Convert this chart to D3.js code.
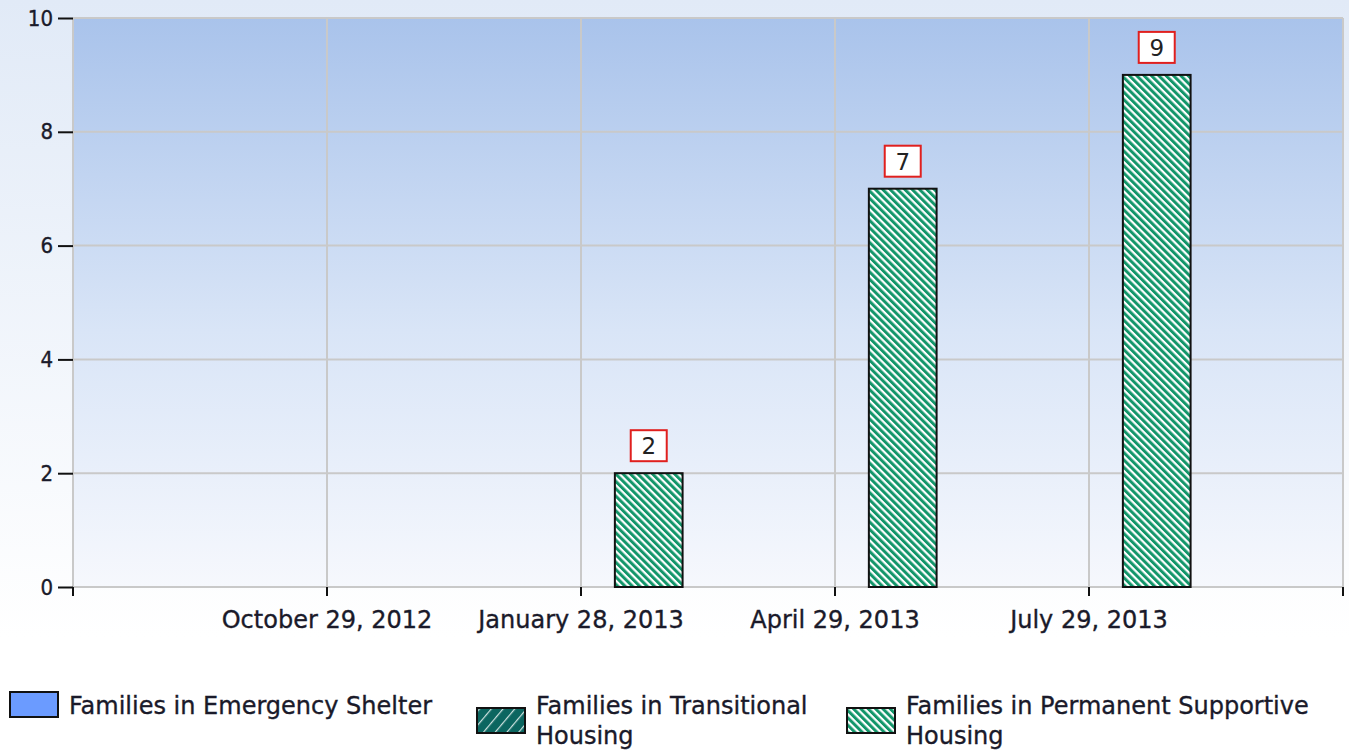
<!DOCTYPE html>
<html>
<head>
<meta charset="utf-8">
<script src="https://cdn.jsdelivr.net/npm/d3@7"></script>
<style>
  body { margin: 0; background: #fff; }
  svg { display: block; }
</style>
</head>
<body>
<svg width="1349" height="750"></svg>
<script>
// Chart data
const categories = ["October 29, 2012", "January 28, 2013", "April 29, 2013", "July 29, 2013"];
const seriesNames = ["Families in Emergency Shelter", "Families in Transitional Housing", "Families in Permanent Supportive Housing"];
const emergencyShelter = [0, 0, 0, 0];
const transitionalHousing = [0, 0, 0, 0];
const permanentHousing = [0, 2, 7, 9];
const yTicks = [0, 2, 4, 6, 8, 10];
// legend text as it wraps in the picture
const legendLines = [
    ["Families in Emergency Shelter"],
    ["Families in Transitional", "Housing"],
    ["Families in Permanent Supportive", "Housing"]
];

const width = 1349;
const height = 750;
const plot = {left: 73, right: 1343, top: 18, bottom: 587};

const svg = d3.select("svg");
const defs = svg.append("defs");

// background gradients
const pageGrad = defs.append("linearGradient").attr("id", "pageGrad")
    .attr("x1", 0).attr("y1", 0).attr("x2", 0).attr("y2", 1);
pageGrad.append("stop").attr("offset", "0%").attr("stop-color", "#e1eaf7");
pageGrad.append("stop").attr("offset", "85%").attr("stop-color", "#ffffff");

const plotGrad = defs.append("linearGradient").attr("id", "plotGrad")
    .attr("x1", 0).attr("y1", 0).attr("x2", 0).attr("y2", 1);
plotGrad.append("stop").attr("offset", "0%").attr("stop-color", "#a9c3eb");
plotGrad.append("stop").attr("offset", "55%").attr("stop-color", "#d9e5f7");
plotGrad.append("stop").attr("offset", "100%").attr("stop-color", "#f6f8fd");

// hatch patterns
const greenHatch = defs.append("pattern").attr("id", "greenHatch")
    .attr("patternUnits", "userSpaceOnUse")
    .attr("width", 5.2).attr("height", 10)
    .attr("patternTransform", "rotate(-45)");
greenHatch.append("rect").attr("width", 5.2).attr("height", 10).attr("fill", "#ffffff");
greenHatch.append("rect").attr("width", 3).attr("height", 10).attr("fill", "#13966a");

const tealHatch = defs.append("pattern").attr("id", "tealHatch")
    .attr("patternUnits", "userSpaceOnUse")
    .attr("width", 9).attr("height", 10)
    .attr("patternTransform", "rotate(40)");
tealHatch.append("rect").attr("width", 9).attr("height", 10).attr("fill", "#0b6660");
tealHatch.append("rect").attr("width", 1.2).attr("height", 10).attr("fill", "#cfe3e0");

const fills = ["#6b9bff", "url(#tealHatch)", "url(#greenHatch)"];

svg.append("rect").attr("width", width).attr("height", height).attr("fill", "url(#pageGrad)");
svg.append("rect")
    .attr("x", plot.left).attr("y", plot.top)
    .attr("width", plot.right - plot.left).attr("height", plot.bottom - plot.top)
    .attr("fill", "url(#plotGrad)");

// scales
const x = d3.scalePoint().domain(categories).range([plot.left, plot.right]).padding(1);
const step = x.step();
const xSeries = d3.scaleBand().domain(d3.range(seriesNames.length))
    .range([-step * 0.4, step * 0.4]);
const y = d3.scaleLinear().domain([0, 10]).range([plot.bottom, plot.top]);

// grid
const grid = svg.append("g").attr("stroke", "#c9c9c9").attr("stroke-width", 2);
grid.selectAll("line.h").data(yTicks).join("line")
    .attr("x1", plot.left).attr("x2", plot.right)
    .attr("y1", d => y(d)).attr("y2", d => y(d));
grid.selectAll("line.v").data(categories).join("line")
    .attr("x1", d => x(d)).attr("x2", d => x(d))
    .attr("y1", plot.top).attr("y2", plot.bottom);
grid.append("line").attr("x1", plot.left).attr("x2", plot.left).attr("y1", plot.top).attr("y2", plot.bottom);
grid.append("line").attr("x1", plot.right).attr("x2", plot.right).attr("y1", plot.top).attr("y2", plot.bottom);

// bars
const seriesValues = [emergencyShelter, transitionalHousing, permanentHousing];
const barData = [];
seriesValues.forEach((vals, s) => {
    vals.forEach((v, i) => barData.push({cat: categories[i], s: s, v: v}));
});
const bars = barData.filter(d => d.v > 0);

svg.append("g").selectAll("rect").data(bars).join("rect")
    .attr("x", d => x(d.cat) + xSeries(d.s))
    .attr("y", d => y(d.v))
    .attr("width", xSeries.bandwidth())
    .attr("height", d => y(0) - y(d.v))
    .attr("fill", d => fills[d.s])
    .attr("stroke", "#111")
    .attr("stroke-width", 2);

const textStyle = sel => sel
    .attr("fill", "#1a1a2a")
    .attr("stroke", "#1a1a2a")
    .attr("stroke-width", 0.35);

// value labels
const labels = svg.append("g").selectAll("g").data(bars).join("g")
    .attr("transform", d => `translate(${x(d.cat) + xSeries(d.s) + xSeries.bandwidth() / 2},${y(d.v) - 12})`);
labels.append("rect")
    .attr("x", -18).attr("y", -31).attr("width", 36).attr("height", 31)
    .attr("fill", "#ffffff").attr("stroke", "#e0201e").attr("stroke-width", 2);
labels.append("text")
    .attr("y", -7)
    .attr("text-anchor", "middle")
    .attr("font-family", "'DejaVu Sans', sans-serif")
    .attr("font-size", 23)
    .attr("fill", "#222")
    .text(d => d.v);

// y axis
const yAxis = svg.append("g").attr("transform", `translate(${plot.left},0)`)
    .call(d3.axisLeft(y).tickValues(yTicks).tickSize(15).tickPadding(5));
yAxis.select(".domain").remove();
yAxis.selectAll(".tick line").attr("stroke", "#111").attr("stroke-width", 2);
yAxis.selectAll(".tick text")
    .attr("font-family", "'DejaVu Sans Condensed', 'DejaVu Sans', sans-serif")
    .attr("font-size", 22)
    .call(textStyle);

// x axis ticks (plot edges + categories)
const xTickPos = [plot.left].concat(categories.map(c => x(c)), [plot.right]);
svg.append("g").selectAll("line").data(xTickPos).join("line")
    .attr("x1", d => d).attr("x2", d => d)
    .attr("y1", plot.bottom).attr("y2", plot.bottom + 9)
    .attr("stroke", "#111").attr("stroke-width", 2);

svg.append("g").selectAll("text").data(categories).join("text")
    .attr("x", d => x(d))
    .attr("y", 628)
    .attr("text-anchor", "middle")
    .attr("font-family", "'DejaVu Sans', sans-serif")
    .attr("font-size", 24)
    .call(textStyle)
    .text(d => d);

// legend
const legendX = [10, 477, 847];
const legend = svg.append("g").selectAll("g").data(seriesNames).join("g")
    .attr("transform", (d, i) => `translate(${legendX[i]},697)`);
legend.append("rect")
    .attr("x", 0)
    .attr("y", (d, i) => legendLines[i].length === 1 ? -5 : 11)
    .attr("width", 48).attr("height", 25)
    .attr("fill", (d, i) => fills[i])
    .attr("stroke", "#111").attr("stroke-width", 2);
legend.append("text")
    .attr("font-family", "'DejaVu Sans', sans-serif")
    .attr("font-size", 24)
    .call(textStyle)
    .selectAll("tspan").data((d, i) => legendLines[i]).join("tspan")
    .attr("x", 59)
    .attr("y", (d, i) => 17 + i * 30)
    .text(d => d);
</script>
</body>
</html>
